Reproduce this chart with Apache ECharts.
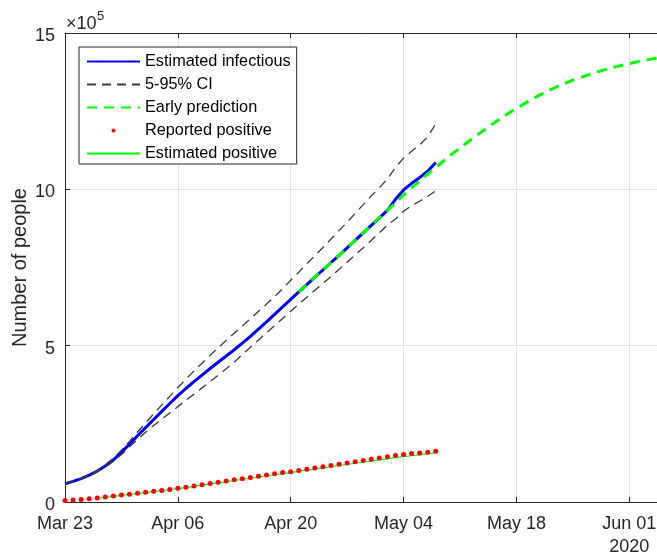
<!DOCTYPE html>
<html>
<head>
<meta charset="utf-8">
<script src="https://cdn.jsdelivr.net/npm/echarts@6/dist/echarts.min.js"></script>
<style>
  html, body { margin: 0; padding: 0; background: #ffffff; }
  #chart { width: 657px; height: 557px; }
</style>
</head>
<body>
<div id="chart"></div>
<script>
// Day 0 = 2020-03-23; all series are indexed by day offset from that date.
const tickDays = [0, 14, 28, 42, 56, 70];
const tickLabels = ['Mar 23', 'Apr 06', 'Apr 20', 'May 04', 'May 18', 'Jun 01\n2020'];
const yTicks = [0, 5, 10, 15];

// Values in units of 10^5 people
const infectious = [0.585, 0.66, 0.75, 0.86, 0.99, 1.15, 1.35, 1.59, 1.85, 2.12, 2.38, 2.64, 2.90, 3.15, 3.40, 3.63,
  3.85, 4.06, 4.27, 4.47, 4.67, 4.87, 5.08, 5.30, 5.53, 5.76, 6.00, 6.24, 6.48, 6.72, 6.95, 7.19, 7.42, 7.66, 7.89,
  8.13, 8.37, 8.61, 8.85, 9.09, 9.33, 9.68, 9.98, 10.19, 10.38, 10.58, 10.86];
const ciUpper = [0.585, 0.66, 0.76, 0.87, 1.01, 1.18, 1.40, 1.66, 1.94, 2.24, 2.53, 2.82, 3.10, 3.38, 3.66, 3.93,
  4.19, 4.44, 4.69, 4.93, 5.17, 5.40, 5.63, 5.86, 6.10, 6.33, 6.57, 6.82, 7.09, 7.35, 7.62, 7.88, 8.14, 8.41, 8.68,
  8.95, 9.23, 9.51, 9.79, 10.05, 10.33, 10.70, 11.00, 11.22, 11.42, 11.68, 12.10];
const ciLower = [0.585, 0.66, 0.74, 0.85, 0.97, 1.12, 1.30, 1.52, 1.76, 2.00, 2.23, 2.45, 2.65, 2.85, 3.05, 3.25,
  3.45, 3.65, 3.85, 4.05, 4.26, 4.47, 4.72, 4.95, 5.18, 5.41, 5.64, 5.87, 6.10, 6.33, 6.55, 6.77, 6.99, 7.21, 7.44,
  7.67, 7.90, 8.13, 8.37, 8.61, 8.86, 9.05, 9.30, 9.48, 9.62, 9.78, 9.95];
const predictionStart = 29;
const prediction = [6.72, 6.95, 7.19, 7.42, 7.66, 7.89, 8.13, 8.37, 8.61, 8.85, 9.09, 9.33, 9.57, 9.82, 10.05, 10.27,
  10.49, 10.70, 10.92, 11.13, 11.32, 11.52, 11.71, 11.90, 12.08, 12.26, 12.43, 12.59, 12.74, 12.89, 13.03, 13.16,
  13.28, 13.39, 13.49, 13.58, 13.67, 13.75, 13.83, 13.90, 13.96, 14.02, 14.08, 14.13, 14.18, 14.22];
const reported = [0.05, 0.06, 0.08, 0.10, 0.13, 0.16, 0.19, 0.22, 0.25, 0.28, 0.31, 0.34, 0.37, 0.40, 0.44, 0.47,
  0.51, 0.55, 0.59, 0.63, 0.67, 0.71, 0.74, 0.78, 0.82, 0.86, 0.90, 0.94, 0.97, 1.01, 1.05, 1.09, 1.13, 1.17, 1.21,
  1.25, 1.29, 1.33, 1.37, 1.41, 1.45, 1.49, 1.52, 1.55, 1.57, 1.59, 1.62];
const estPositiveStart = 4;
const estPositive = [0.12, 0.15, 0.18, 0.21, 0.24, 0.27, 0.30, 0.33, 0.36, 0.40, 0.43, 0.46, 0.50, 0.54, 0.57, 0.61,
  0.65, 0.69, 0.72, 0.76, 0.80, 0.84, 0.87, 0.91, 0.95, 0.98, 1.02, 1.06, 1.09, 1.13, 1.17, 1.20, 1.24, 1.28, 1.31,
  1.35, 1.38, 1.42, 1.45, 1.48, 1.51, 1.54, 1.57];

const FONT = '"Liberation Sans", Arial, Helvetica, sans-serif';
const AXIS_COLOR = '#262626';
const GRID_COLOR = '#e3e3e3';
const X_MAX = 74; // axis box ends just past the right edge of the figure

function pairs(values, start) {
  return values.map((v, i) => [start + i, v]);
}

const chart = echarts.init(document.getElementById('chart'), null, { renderer: 'canvas' });

const commonX = {
  type: 'value', min: 0, max: X_MAX, interval: 14
};

chart.setOption({
  animation: false,
  backgroundColor: '#ffffff',
  grid: {
    left: 65, top: 33, width: 596.5, height: 469,
    containLabel: false, outerBoundsMode: 'none'
  },
  xAxis: [
    Object.assign({}, commonX, {
      position: 'bottom',
      axisLine: { show: true, onZero: false, lineStyle: { color: AXIS_COLOR, width: 1 } },
      axisTick: { show: true, inside: true, length: 5, lineStyle: { color: AXIS_COLOR } },
      axisLabel: {
        show: true, margin: 11, fontFamily: FONT, fontSize: 18, color: AXIS_COLOR, lineHeight: 23,
        showMaxLabel: false,
        formatter: (v) => { const i = tickDays.indexOf(v); return i >= 0 ? tickLabels[i] : ''; }
      },
      splitLine: { show: true, lineStyle: { color: GRID_COLOR, width: 1 } }
    }),
    Object.assign({}, commonX, {
      position: 'top',
      axisLine: { show: true, onZero: false, lineStyle: { color: AXIS_COLOR, width: 1 } },
      axisTick: { show: true, inside: true, length: 5, lineStyle: { color: AXIS_COLOR } },
      axisLabel: { show: false },
      splitLine: { show: false }
    })
  ],
  yAxis: {
    type: 'value', min: 0, max: 15, interval: 5,
    axisLine: { show: true, onZero: false, lineStyle: { color: AXIS_COLOR, width: 1 } },
    axisTick: { show: true, inside: true, length: 5, lineStyle: { color: AXIS_COLOR } },
    axisLabel: {
      margin: 10, fontFamily: FONT, fontSize: 18, color: AXIS_COLOR,
      formatter: (v) => (yTicks.indexOf(v) >= 0 ? '{v|' + v + '}' : ''),
      rich: { v: { fontFamily: FONT, fontSize: 18, color: AXIS_COLOR, padding: [6, 0, 0, 0] } }
    },
    splitLine: { show: true, lineStyle: { color: GRID_COLOR, width: 1 } },
    name: 'Number of people',
    nameLocation: 'middle',
    nameGap: 35,
    nameMoveOverlap: false,
    nameTextStyle: { fontFamily: FONT, fontSize: 20, color: AXIS_COLOR }
  },
  legend: {
    orient: 'vertical',
    left: 79, top: 47,
    itemWidth: 53, itemHeight: 5, itemGap: 4,
    padding: [5, 6, 1, 7],
    backgroundColor: '#ffffff',
    borderColor: AXIS_COLOR, borderWidth: 1,
    selectedMode: false,
    textStyle: { fontFamily: FONT, fontSize: 16.3, color: '#000000', lineHeight: 19 },
    data: [
      { name: 'Estimated infectious', itemStyle: { opacity: 0 } },
      { name: '5-95% CI', itemStyle: { opacity: 0 } },
      { name: 'Early prediction', itemStyle: { opacity: 0 } },
      { name: 'Reported positive', lineStyle: { opacity: 0 } },
      { name: 'Estimated positive', itemStyle: { opacity: 0 } }
    ]
  },
  graphic: [
    { type: 'text', x: 66, y: 24, silent: true,
      style: { text: '\u00d710', fontFamily: FONT, fontSize: 18, fill: AXIS_COLOR, verticalAlign: 'middle' } },
    { type: 'text', x: 97, y: 16.5, silent: true,
      style: { text: '5', fontFamily: FONT, fontSize: 13, fill: AXIS_COLOR, verticalAlign: 'middle' } }
  ],
  series: [
    {
      name: 'Estimated infectious', type: 'line', xAxisIndex: 0, symbol: 'none', z: 2,
      data: pairs(infectious, 0),
      lineStyle: { color: '#0000ff', width: 3 }, itemStyle: { color: '#0000ff' }
    },
    {
      name: '5-95% CI', type: 'line', xAxisIndex: 0, symbol: 'none', z: 3,
      data: pairs(ciUpper, 0),
      lineStyle: { color: '#3a3a3a', width: 1.3, type: [9, 6] }, itemStyle: { color: '#3a3a3a' }
    },
    {
      name: '5-95% CI', type: 'line', xAxisIndex: 0, symbol: 'none', z: 3,
      data: pairs(ciLower, 0),
      lineStyle: { color: '#3a3a3a', width: 1.3, type: [9, 6] }, itemStyle: { color: '#3a3a3a' }
    },
    {
      name: 'Early prediction', type: 'line', xAxisIndex: 0, symbol: 'none', z: 4,
      data: pairs(prediction, predictionStart),
      lineStyle: { color: '#00ff00', width: 3, type: [10, 7] }, itemStyle: { color: '#00ff00' }
    },
    {
      name: 'Estimated positive', type: 'line', xAxisIndex: 0, symbol: 'none', z: 4,
      data: pairs(estPositive, estPositiveStart),
      lineStyle: { color: '#00ff00', width: 1.2 }, itemStyle: { color: '#00ff00' }
    },
    {
      name: 'Reported positive', type: 'line', xAxisIndex: 0, z: 5,
      symbol: 'circle', symbolSize: 5, showSymbol: true, showAllSymbol: true,
      data: pairs(reported, 0),
      lineStyle: { width: 0, opacity: 0 }, itemStyle: { color: '#ff0000' }
    }
  ]
});
</script>
</body>
</html>
